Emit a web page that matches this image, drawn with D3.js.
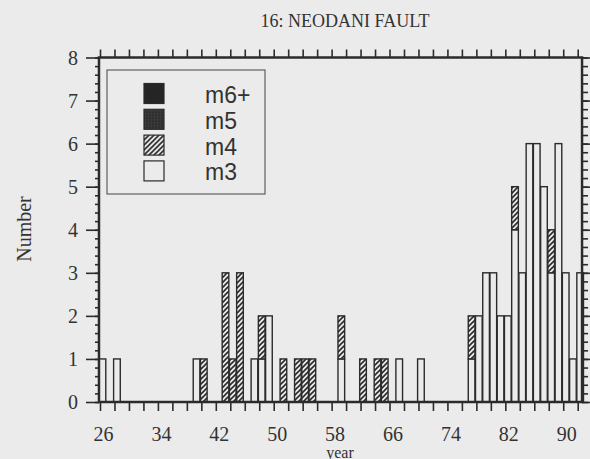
<!DOCTYPE html>
<html>
<head>
<meta charset="utf-8">
<script src="https://cdnjs.cloudflare.com/ajax/libs/d3/7.8.5/d3.min.js"></script>
<style>
  html, body { margin: 0; padding: 0; background: #ebebeb; }
  svg { display: block; }
  .axis path { display: none; }
  .axis line { stroke: #2b2b2b; stroke-width: 1.6; }
  .axis text { font-family: "Liberation Serif", "DejaVu Serif", serif; font-size: 20px; fill: #333; }
</style>
</head>
<body>
<div id="chart"></div>
<script>
  // counts per year (19xx), stacked m3 -> m4 -> m5 -> m6+
  var years = [26, 28, 39, 40, 43, 44, 45, 47, 48, 49, 51, 53, 54, 55, 59, 62, 64, 65, 67, 70,
               77, 78, 79, 80, 81, 82, 83, 84, 85, 86, 87, 88, 89, 90, 91, 92];
  var m3 = [1, 1, 1, 0, 0, 0, 0, 1, 1, 2, 0, 0, 0, 0, 1, 0, 0, 0, 1, 1,
            1, 2, 3, 3, 2, 2, 4, 3, 6, 6, 5, 3, 6, 3, 1, 3];
  var m4 = [0, 0, 0, 1, 3, 1, 3, 0, 1, 0, 1, 1, 1, 1, 1, 1, 1, 1, 0, 0,
            1, 0, 0, 0, 0, 0, 1, 0, 0, 0, 0, 1, 0, 0, 0, 0];
  var m5 = [0, 0, 0, 0, 0, 0, 0, 0, 0, 0, 0, 0, 0, 0, 0, 0, 0, 0, 0, 0,
            0, 0, 0, 0, 0, 0, 0, 0, 0, 0, 0, 0, 0, 0, 0, 0];
  var m6 = [0, 0, 0, 0, 0, 0, 0, 0, 0, 0, 0, 0, 0, 0, 0, 0, 0, 0, 0, 0,
            0, 0, 0, 0, 0, 0, 0, 0, 0, 0, 0, 0, 0, 0, 0, 0];
  var keys = ["m3", "m4", "m5", "m6"];
  var legendLabels = ["m6+", "m5", "m4", "m3"];
  var xTicks = [26, 34, 42, 50, 58, 66, 74, 82, 90];
  var yTicks = [0, 1, 2, 3, 4, 5, 6, 7, 8];

  var width = 590, height = 459;
  var bg = "#ebebeb", ink = "#2b2b2b";

  var svg = d3.select("#chart").append("svg")
    .attr("width", width)
    .attr("height", height)
    .style("background", bg);

  var x = d3.scaleLinear().domain([26, 92]).range([100, 577.7]);
  var y = d3.scaleLinear().domain([0, 8]).range([402, 57.5]);
  var left = x(25.86), right = x(92.6);

  var defs = svg.append("defs");
  var hatch = defs.append("pattern")
    .attr("id", "hatch")
    .attr("patternUnits", "userSpaceOnUse")
    .attr("width", 5).attr("height", 5);
  hatch.append("rect").attr("width", 5).attr("height", 5).attr("fill", bg);
  hatch.append("path")
    .attr("d", "M0,5 L5,0 M-1,1 L1,-1 M4,6 L6,4")
    .attr("stroke", ink).attr("stroke-width", 1.6);
  var cross = defs.append("pattern")
    .attr("id", "cross")
    .attr("patternUnits", "userSpaceOnUse")
    .attr("width", 3).attr("height", 3);
  cross.append("rect").attr("width", 3).attr("height", 3).attr("fill", "#2e2e2e");
  cross.append("path").attr("d", "M0,1.5 H3 M1.5,0 V3")
    .attr("stroke", "#3c3c3c").attr("stroke-width", 0.8);

  var fills = { m3: bg, m4: "url(#hatch)", m5: "url(#cross)", m6: "#252525" };

  var table = years.map(function(yr, i) {
    return { year: yr, m3: m3[i], m4: m4[i], m5: m5[i], m6: m6[i] };
  });
  var series = d3.stack().keys(keys)(table);

  // bars
  svg.append("g").selectAll("g")
    .data(series)
    .enter().append("g")
    .attr("fill", function(d) { return fills[d.key]; })
    .selectAll("rect")
    .data(function(d) { return d.filter(function(p) { return p[1] > p[0]; }); })
    .enter().append("rect")
    .attr("x", function(d) { return x(d.data.year - 0.12); })
    .attr("width", function(d) { return x(d.data.year + 0.8) - x(d.data.year - 0.12); })
    .attr("y", function(d) { return y(d[1]); })
    .attr("height", function(d) { return y(d[0]) - y(d[1]); })
    .attr("stroke", ink)
    .attr("stroke-width", 1.4);

  // axes
  var twoYears = d3.range(26, 93, 2);
  svg.append("g").attr("class", "axis")
    .attr("transform", "translate(0," + y(0) + ")")
    .call(d3.axisBottom(x).tickValues(twoYears).tickSize(9)
      .tickFormat(function(d) { return xTicks.indexOf(d) >= 0 ? d : ""; }))
    .selectAll("text").attr("y", 38.5).attr("dy", 0).attr("dx", 3);
  svg.append("g").attr("class", "axis")
    .attr("transform", "translate(0," + y(8) + ")")
    .call(d3.axisTop(x).tickValues(twoYears).tickSize(8).tickFormat(""));

  var minor = d3.range(0, 41).map(function(i) { return i / 5; });
  svg.append("g").attr("class", "axis")
    .attr("transform", "translate(" + left + ",0)")
    .call(d3.axisLeft(y).tickValues(yTicks).tickSize(13).tickPadding(8).tickFormat(d3.format("d")))
    .selectAll("text").attr("dy", "0.34em");
  svg.append("g").attr("class", "axis")
    .attr("transform", "translate(" + left + ",0)")
    .call(d3.axisLeft(y).tickValues(minor).tickSize(4).tickFormat(""));
  svg.append("g").attr("class", "axis")
    .attr("transform", "translate(" + right + ",0)")
    .call(d3.axisRight(y).tickValues(yTicks).tickSize(9).tickFormat(""));
  svg.append("g").attr("class", "axis")
    .attr("transform", "translate(" + right + ",0)")
    .call(d3.axisRight(y).tickValues(minor).tickSize(6).tickFormat(""));

  // frame
  svg.append("rect")
    .attr("x", left).attr("y", y(8))
    .attr("width", right - left).attr("height", y(0) - y(8))
    .attr("fill", "none").attr("stroke", ink).attr("stroke-width", 2.5);

  // legend
  var legend = svg.append("g").attr("transform", "translate(107,70)");
  legend.append("rect")
    .attr("width", 158).attr("height", 124)
    .attr("fill", "none").attr("stroke", "#444").attr("stroke-width", 1);
  var legendKeys = ["m6", "m5", "m4", "m3"];
  var row = legend.selectAll(".row")
    .data(legendKeys)
    .enter().append("g")
    .attr("class", "row")
    .attr("transform", function(d, i) { return "translate(37," + (13.5 + i * 25.8) + ")"; });
  row.append("rect")
    .attr("width", 20).attr("height", 20)
    .attr("fill", function(d) { return fills[d]; })
    .attr("stroke", ink).attr("stroke-width", 1.2);
  row.append("text")
    .attr("x", 61).attr("y", 19.5)
    .style("font-family", "'Liberation Sans', Arial, sans-serif")
    .style("font-size", "23px")
    .style("fill", "#333")
    .text(function(d, i) { return legendLabels[i]; });

  // titles
  svg.append("text")
    .attr("x", 345).attr("y", 27)
    .attr("text-anchor", "middle")
    .style("font-family", "'Liberation Serif', 'DejaVu Serif', serif")
    .style("font-size", "18px")
    .style("fill", "#333")
    .text("16: NEODANI FAULT");
  svg.append("text")
    .attr("transform", "translate(31,229) rotate(-90)")
    .attr("text-anchor", "middle")
    .style("font-family", "'Liberation Serif', 'DejaVu Serif', serif")
    .style("font-size", "20px")
    .style("fill", "#333")
    .text("Number");
  svg.append("text")
    .attr("x", 340).attr("y", 457.5)
    .attr("text-anchor", "middle")
    .style("font-family", "'Liberation Serif', 'DejaVu Serif', serif")
    .style("font-size", "16px")
    .style("fill", "#333")
    .text("year");
</script>
</body>
</html>
